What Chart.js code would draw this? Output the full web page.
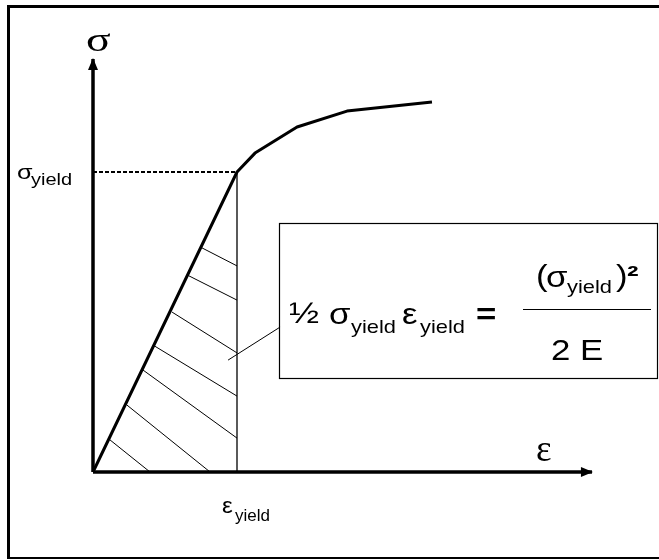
<!DOCTYPE html>
<html>
<head>
<meta charset="utf-8">
<script src="https://cdn.jsdelivr.net/npm/chart.js@4.4.1/dist/chart.umd.min.js"></script>
<style>
  html, body { margin: 0; padding: 0; background: #fff; }
  canvas { display: block; }
</style>
</head>
<body>
<canvas id="chart" width="659" height="560"></canvas>
<script>
// strain in units of eps_yield, stress in units of sigma_yield
const curveStrain = [0, 1, 1.125, 1.417, 1.764, 2.354];
const curveStress = [0, 1, 1.063, 1.15, 1.203, 1.233];

const yieldStrain = 1;
const yieldStress = 1;

// hatching of the elastic energy triangle (start on curve, end on eps_yield line / axis)
const hatchStartStrain = [0.757, 0.653, 0.549, 0.417, 0.347, 0.236, 0.118];
const hatchStartStress = [0.747, 0.657, 0.533, 0.423, 0.34, 0.223, 0.107];
const hatchEndStrain = [1, 1, 1, 1, 1, 0.813, 0.396];
const hatchEndStress = [0.687, 0.573, 0.397, 0.253, 0.113, 0, 0];

// pointer from the hatched area to the formula box
const leaderStrain = [0.938, 1.299];
const leaderStress = [0.373, 0.483];

const strainAxisEnd = 3.465;
const stressAxisEnd = 1.377;

// where the origin sits on the page and how big one unit is
const origin = { x: 93, y: 472 };
const pxPerStrain = 144;
const pxPerStress = 300;
const W = 659, H = 560;

const pts = (xs, ys) => xs.map((x, i) => ({ x: x, y: ys[i] }));

function seg(data, width, extra) {
  return Object.assign({
    data: data,
    showLine: true,
    borderColor: '#000',
    borderWidth: width,
    pointRadius: 0,
    pointHoverRadius: 0,
    tension: 0,
    borderCapStyle: 'butt'
  }, extra || {});
}

const datasets = [
  seg([{ x: 0, y: 0 }, { x: strainAxisEnd, y: 0 }], 3.5, { arrow: true }),
  seg([{ x: 0, y: 0 }, { x: 0, y: stressAxisEnd }], 3.5, { arrow: true }),
  seg([{ x: 0, y: yieldStress }, { x: yieldStrain, y: yieldStress }], 2, { borderDash: [4, 2] }),
  seg([{ x: yieldStrain, y: 0 }, { x: yieldStrain, y: yieldStress }], 1.3),
  seg(pts(curveStrain, curveStress), 3, { borderJoinStyle: 'round' }),
  seg(pts(leaderStrain, leaderStress), 1)
];
hatchStartStrain.forEach((s, i) => {
  datasets.push(seg([
    { x: s, y: hatchStartStress[i] },
    { x: hatchEndStrain[i], y: hatchEndStress[i] }
  ], 1));
});

function txt(ctx, s, x, y, font, sx) {
  ctx.save();
  ctx.translate(x, y);
  ctx.scale(sx || 1, 1);
  ctx.font = font;
  ctx.fillText(s, 0, 0);
  ctx.restore();
}

const sans = '"Liberation Sans", Arial, sans-serif';
const serif = '"Liberation Serif", "Times New Roman", serif';

const diagram = {
  id: 'diagram',
  beforeDraw(chart) {
    const ctx = chart.ctx;
    ctx.save();
    ctx.fillStyle = '#fff';
    ctx.fillRect(0, 0, W, H);
    ctx.restore();
  },
  afterDatasetsDraw(chart) {
    const ctx = chart.ctx;
    ctx.save();
    ctx.fillStyle = '#000';
    ctx.strokeStyle = '#000';

    // arrow heads on the axes
    chart.data.datasets.forEach((ds, i) => {
      if (!ds.arrow) return;
      const p = chart.getDatasetMeta(i).data;
      const a = p[p.length - 2], b = p[p.length - 1];
      const ang = Math.atan2(b.y - a.y, b.x - a.x);
      ctx.save();
      ctx.translate(b.x, b.y);
      ctx.rotate(ang);
      ctx.beginPath();
      ctx.moveTo(1, 0);
      ctx.lineTo(-11, -5);
      ctx.lineTo(-11, 5);
      ctx.closePath();
      ctx.fill();
      ctx.restore();
    });

    // outer frame
    ctx.fillRect(7, 5, 3, H - 6);
    ctx.fillRect(7, 5, W - 7, 3);
    ctx.fillRect(7, 557, W - 7, 2);

    // formula box
    ctx.lineWidth = 1.2;
    ctx.strokeRect(279.5, 223.5, 378, 155);
    ctx.lineWidth = 1;
    ctx.beginPath();
    ctx.moveTo(523, 309.5);
    ctx.lineTo(651, 309.5);
    ctx.stroke();

    // axis labels
    txt(ctx, 'σ', 86, 51, '34px ' + serif, 1.35);
    txt(ctx, 'ε', 536, 461, '37px ' + serif, 1.0);
    txt(ctx, 'σ', 17, 179, '21px ' + sans, 1.2);
    txt(ctx, 'yield', 31, 185, '16px ' + sans, 1.25);
    txt(ctx, 'ε', 222, 513, '22px ' + sans, 1.1);
    txt(ctx, 'yield', 235, 521, '17px ' + sans, 1.0);

    // formula
    const sx = 1.2;
    txt(ctx, '½', 289, 323, '30px ' + sans, sx);
    txt(ctx, 'σ', 329, 324, '29px ' + sans, sx);
    txt(ctx, 'yield', 351, 333, '19px ' + sans, 1.15);
    txt(ctx, 'ε', 402, 324, '29px ' + sans, sx);
    txt(ctx, 'yield', 420, 333, '19px ' + sans, 1.15);
    txt(ctx, '=', 476, 324, 'bold 29px ' + sans, sx);
    txt(ctx, '(', 536, 286, '29px ' + sans, sx);
    txt(ctx, 'σ', 546, 287, '29px ' + sans, sx);
    txt(ctx, 'yield', 567, 293, '19px ' + sans, 1.15);
    txt(ctx, ')', 616, 286, '29px ' + sans, sx);
    txt(ctx, '²', 627, 286, 'bold 29px ' + sans, sx);
    txt(ctx, '2 E', 551, 360, '29px ' + sans, sx);

    ctx.restore();
  }
};

new Chart(document.getElementById('chart'), {
  type: 'scatter',
  data: { datasets: datasets },
  options: {
    responsive: false,
    animation: false,
    events: [],
    layout: { padding: 0 },
    plugins: { legend: { display: false }, tooltip: { enabled: false } },
    scales: {
      x: {
        type: 'linear',
        display: false,
        min: -origin.x / pxPerStrain,
        max: (W - origin.x) / pxPerStrain
      },
      y: {
        type: 'linear',
        display: false,
        min: -(H - origin.y) / pxPerStress,
        max: origin.y / pxPerStress
      }
    }
  },
  plugins: [diagram]
});
</script>
</body>
</html>
